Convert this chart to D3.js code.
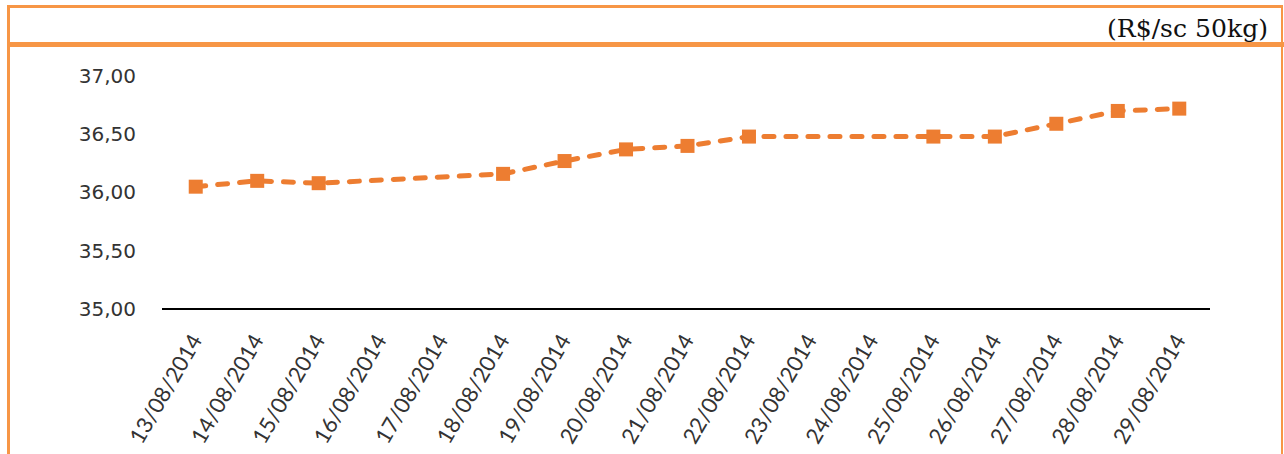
<!DOCTYPE html>
<html>
<head>
<meta charset="utf-8">
<script src="https://cdn.jsdelivr.net/npm/d3@7"></script>
<style>
  html, body { margin: 0; padding: 0; background: #fff; }
  svg { display: block; }
</style>
</head>
<body>
<svg id="chart" width="1284" height="454"></svg>
<script>
const categories = ["13/08/2014","14/08/2014","15/08/2014","16/08/2014","17/08/2014","18/08/2014",
  "19/08/2014","20/08/2014","21/08/2014","22/08/2014","23/08/2014","24/08/2014","25/08/2014",
  "26/08/2014","27/08/2014","28/08/2014","29/08/2014"];
const values = [36.05, 36.10, 36.08, null, null, 36.16, 36.27, 36.37, 36.40, 36.48, null, null,
  36.48, 36.48, 36.59, 36.70, 36.72];
const yTicks = [35.00, 35.50, 36.00, 36.50, 37.00];
const unitLabel = "(R$/sc 50kg)";

const svg = d3.select("#chart");
const border = "#F79646";
const lineColor = "#ED7D31";

// Frame
svg.append("line").attr("x1", 7).attr("x2", 1283).attr("y1", 6.5).attr("y2", 6.5)
  .attr("stroke", border).attr("stroke-width", 3);
svg.append("line").attr("x1", 8.5).attr("x2", 8.5).attr("y1", 5).attr("y2", 454)
  .attr("stroke", border).attr("stroke-width", 3);
svg.append("line").attr("x1", 1282).attr("x2", 1282).attr("y1", 5).attr("y2", 454)
  .attr("stroke", border).attr("stroke-width", 2);
svg.append("line").attr("x1", 7).attr("x2", 1284).attr("y1", 44.5).attr("y2", 44.5)
  .attr("stroke", border).attr("stroke-width", 5);

svg.append("text").attr("x", 1268).attr("y", 37).attr("text-anchor", "end")
  .attr("font-family", "'DejaVu Serif', serif").attr("font-size", 25).attr("fill", "#111")
  .attr("textLength", 161).attr("lengthAdjust", "spacingAndGlyphs")
  .text(unitLabel);

const x = d3.scalePoint().domain(categories).range([165, 1210]).padding(0.5);
const y = d3.scaleLinear().domain([35, 37]).range([309, 76]);

const fmt = v => d3.format(".2f")(v).replace(".", ",");

// Y axis (labels only)
const yAxis = svg.append("g").attr("transform", "translate(136,0)")
  .call(d3.axisLeft(y).tickValues(yTicks).tickSize(0).tickPadding(0).tickFormat(fmt));
yAxis.select(".domain").remove();
yAxis.selectAll("text").attr("font-family", "'DejaVu Sans', Verdana, sans-serif")
  .attr("font-size", 20).attr("fill", "#333");

// X axis
const xAxis = svg.append("g").attr("transform", "translate(0,309)")
  .call(d3.axisBottom(x).tickSize(0).tickSizeOuter(0).tickPadding(0));
xAxis.select(".domain").attr("stroke", "#000").attr("stroke-width", 2)
  .attr("d", "M162,0H1210");
xAxis.selectAll(".tick text")
  .attr("font-family", "Lato, 'Open Sans', sans-serif").attr("font-size", 22).attr("fill", "#333")
  .attr("text-anchor", "end")
  .attr("dy", "0.35em")
  .attr("transform", "translate(0,27) rotate(-60)");

// Line
const defined = categories.map((c, i) => ({c, v: values[i]})).filter(d => d.v != null);
const line = d3.line().x(d => x(d.c)).y(d => y(d.v));
svg.append("path").datum(defined).attr("d", line)
  .attr("fill", "none").attr("stroke", lineColor).attr("stroke-width", 5)
  .attr("stroke-dasharray", "10,12").attr("stroke-linecap", "round");

svg.selectAll("rect.mk").data(defined).join("rect").attr("class", "mk")
  .attr("x", d => x(d.c) - 7).attr("y", d => y(d.v) - 7)
  .attr("width", 14).attr("height", 14).attr("fill", lineColor);
</script>
</body>
</html>
